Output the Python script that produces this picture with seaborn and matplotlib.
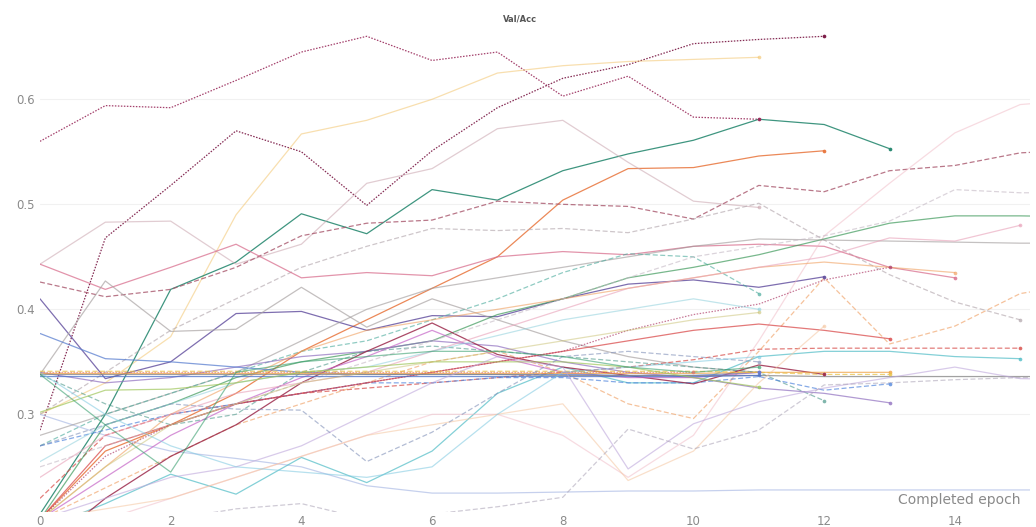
import matplotlib
matplotlib.use("Agg")
import matplotlib.pyplot as plt
import seaborn as sns
import pandas as pd

# ---- validation accuracy per completed epoch, one list per run ----
run_maroon_top = [0.560, 0.594, 0.592, 0.618, 0.645, 0.660, 0.637, 0.645, 0.603, 0.622, 0.583, 0.581]
run_maroon_climb = [0.285, 0.468, 0.518, 0.570, 0.550, 0.499, 0.551, 0.592, 0.620, 0.633, 0.653, 0.657, 0.660]
run_yellow = [0.300, 0.330, 0.374, 0.490, 0.567, 0.580, 0.600, 0.625, 0.632, 0.636, 0.638, 0.640]
run_green_dark = [0.205, 0.300, 0.419, 0.445, 0.491, 0.472, 0.514, 0.504, 0.532, 0.548, 0.561, 0.581, 0.576, 0.553]
run_orange = [0.200, 0.265, 0.290, 0.320, 0.360, 0.390, 0.420, 0.450, 0.504, 0.534, 0.535, 0.546, 0.551]
run_mauve = [0.443, 0.483, 0.484, 0.443, 0.462, 0.520, 0.534, 0.572, 0.580, 0.540, 0.503, 0.497]
run_rose_dash = [0.426, 0.412, 0.419, 0.440, 0.470, 0.482, 0.485, 0.503, 0.500, 0.498, 0.486, 0.518, 0.512, 0.532, 0.537, 0.549, 0.552]
run_gray_dash = [0.300, 0.340, 0.380, 0.410, 0.440, 0.460, 0.477, 0.475, 0.477, 0.473, 0.486, 0.501, 0.466, 0.433, 0.407, 0.390]
run_pink = [0.443, 0.419, 0.440, 0.462, 0.430, 0.435, 0.432, 0.450, 0.455, 0.452, 0.460, 0.462, 0.460, 0.440, 0.430]
run_purple = [0.410, 0.334, 0.350, 0.396, 0.398, 0.380, 0.394, 0.393, 0.410, 0.424, 0.428, 0.421, 0.431]
run_gray = [0.338, 0.427, 0.379, 0.381, 0.421, 0.383, 0.410, 0.390, 0.370, 0.355, 0.345, 0.340]
run_lavender_flat = [0.300, 0.280, 0.265, 0.258, 0.250, 0.232, 0.225, 0.225, 0.226, 0.227, 0.227, 0.228, 0.228, 0.228, 0.228, 0.228, 0.228]
run_teal = [0.190, 0.215, 0.243, 0.224, 0.259, 0.235, 0.265, 0.320, 0.345, 0.330, 0.330, 0.355, 0.360, 0.360, 0.355, 0.353]
run_red_dash = [0.220, 0.280, 0.300, 0.310, 0.320, 0.325, 0.330, 0.335, 0.340, 0.345, 0.352, 0.362, 0.363, 0.363, 0.363, 0.363]
run_orange_dash = [0.200, 0.230, 0.260, 0.290, 0.310, 0.330, 0.350, 0.360, 0.340, 0.310, 0.296, 0.360, 0.430, 0.367, 0.384, 0.415, 0.425]
run_pink_rise = [0.180, 0.200, 0.220, 0.240, 0.260, 0.280, 0.300, 0.300, 0.280, 0.240, 0.280, 0.370, 0.470, 0.520, 0.568, 0.595, 0.600]
run_green = [0.200, 0.290, 0.310, 0.335, 0.350, 0.360, 0.370, 0.395, 0.410, 0.430, 0.440, 0.452, 0.467, 0.482, 0.489, 0.489, 0.488]
run_gray_high = [0.280, 0.300, 0.320, 0.340, 0.370, 0.400, 0.420, 0.430, 0.440, 0.450, 0.460, 0.467, 0.466, 0.465, 0.464, 0.463, 0.463]
run_teal_dash = [0.270, 0.300, 0.320, 0.340, 0.360, 0.370, 0.390, 0.410, 0.435, 0.453, 0.450, 0.415]
run_teal_dash_b = [0.338, 0.310, 0.290, 0.300, 0.340, 0.360, 0.365, 0.360, 0.355, 0.350, 0.345, 0.340, 0.313]
run_blue_dash = [0.270, 0.285, 0.300, 0.310, 0.320, 0.330, 0.330, 0.335, 0.335, 0.330, 0.330, 0.336, 0.323, 0.329]
run_purple_b = [0.340, 0.330, 0.335, 0.345, 0.355, 0.360, 0.370, 0.365, 0.350, 0.340, 0.335, 0.325, 0.320, 0.311]
run_darkred = [0.170, 0.220, 0.260, 0.290, 0.330, 0.360, 0.387, 0.357, 0.345, 0.337, 0.329, 0.347, 0.338]
run_magenta = [0.200, 0.240, 0.280, 0.310, 0.335, 0.355, 0.380, 0.355, 0.340, 0.335, 0.335, 0.340]
run_red = [0.200, 0.270, 0.290, 0.310, 0.320, 0.330, 0.340, 0.350, 0.360, 0.370, 0.380, 0.386, 0.380, 0.372]
run_maroon_dot = [0.200, 0.260, 0.290, 0.310, 0.320, 0.330, 0.340, 0.350, 0.360, 0.380, 0.395, 0.405, 0.428, 0.440]
run_orange_b = [0.200, 0.250, 0.300, 0.330, 0.360, 0.380, 0.390, 0.400, 0.410, 0.420, 0.430, 0.440, 0.445, 0.440, 0.435]
run_pink_b = [0.240, 0.280, 0.300, 0.320, 0.330, 0.340, 0.360, 0.380, 0.400, 0.420, 0.430, 0.440, 0.450, 0.468, 0.465, 0.480]
run_silver_dash = [0.250, 0.270, 0.290, 0.310, 0.330, 0.350, 0.370, 0.390, 0.410, 0.430, 0.450, 0.460, 0.470, 0.484, 0.514, 0.511, 0.511]
run_cyan = [0.255, 0.290, 0.310, 0.330, 0.340, 0.345, 0.360, 0.375, 0.390, 0.400, 0.410, 0.400]
run_blue = [0.377, 0.353, 0.350, 0.345, 0.340, 0.338, 0.338, 0.338, 0.338, 0.337, 0.337, 0.340]
run_flat_gray = [0.338, 0.338, 0.338, 0.338, 0.338, 0.338, 0.338, 0.338, 0.337, 0.337, 0.337, 0.337, 0.336, 0.336, 0.336, 0.336, 0.336]
run_flat_orange = [0.339, 0.339, 0.339, 0.339, 0.339, 0.339, 0.339, 0.339, 0.339, 0.339, 0.339, 0.340, 0.340, 0.340]
run_flat_yellow = [0.341, 0.341, 0.341, 0.341, 0.341, 0.341, 0.341, 0.341, 0.341, 0.341, 0.341, 0.340, 0.338, 0.338]
run_flat_blue = [0.336, 0.336, 0.336, 0.336, 0.336, 0.336, 0.336, 0.336, 0.336, 0.336, 0.336, 0.337]
run_flat_red = [0.340, 0.340, 0.340, 0.340, 0.340, 0.340, 0.340, 0.340, 0.340, 0.340, 0.340]
run_lime = [0.302, 0.323, 0.324, 0.330, 0.340, 0.345, 0.350, 0.350, 0.350, 0.345, 0.335, 0.326]
run_olive = [0.200, 0.250, 0.290, 0.310, 0.330, 0.340, 0.350, 0.360, 0.370, 0.380, 0.390, 0.397]
run_peach = [0.200, 0.210, 0.220, 0.240, 0.260, 0.280, 0.290, 0.300, 0.310, 0.237, 0.265, 0.330, 0.384]
run_lavender = [0.200, 0.220, 0.240, 0.250, 0.270, 0.300, 0.330, 0.355, 0.345, 0.248, 0.291, 0.312, 0.325, 0.335, 0.345, 0.334, 0.333]
run_gray_dash_low = [0.180, 0.190, 0.200, 0.210, 0.215, 0.200, 0.205, 0.212, 0.221, 0.286, 0.267, 0.285, 0.328, 0.330, 0.333, 0.335, 0.335]
run_slate_dash = [0.270, 0.290, 0.310, 0.305, 0.304, 0.255, 0.283, 0.320, 0.355, 0.360, 0.355, 0.350]
run_sky = [0.340, 0.300, 0.270, 0.250, 0.245, 0.240, 0.250, 0.300, 0.340, 0.345, 0.350, 0.355]
run_green_fall = [0.338, 0.290, 0.245, 0.340, 0.350, 0.355, 0.360, 0.360, 0.355, 0.345, 0.340, 0.345]

# run, colour, line style, opacity
runs = [
    (run_maroon_top, "#9a2c5c", "dot", 0.9),
    (run_maroon_climb, "#7e1f4a", "dot", 0.95),
    (run_yellow, "#f3c56e", "solid", 0.55),
    (run_green_dark, "#2a8a72", "solid", 0.9),
    (run_orange, "#e8743b", "solid", 0.85),
    (run_mauve, "#c9a3ad", "solid", 0.55),
    (run_rose_dash, "#a8566c", "dash", 0.8),
    (run_gray_dash, "#b4a8ae", "dash", 0.65),
    (run_pink, "#d9708f", "solid", 0.75),
    (run_purple, "#5e4a9c", "solid", 0.8),
    (run_gray, "#aaa4a4", "solid", 0.7),
    (run_lavender_flat, "#aebde6", "solid", 0.7),
    (run_teal, "#4fbcc6", "solid", 0.7),
    (run_red_dash, "#d9534f", "dash", 0.75),
    (run_orange_dash, "#ef9a5a", "dash", 0.6),
    (run_pink_rise, "#f0b8c4", "solid", 0.5),
    (run_green, "#3f9a5c", "solid", 0.7),
    (run_gray_high, "#9e9898", "solid", 0.6),
    (run_teal_dash, "#46a99a", "dash", 0.6),
    (run_teal_dash_b, "#3c8f80", "dash", 0.55),
    (run_blue_dash, "#5387dd", "dash", 0.7),
    (run_purple_b, "#9070c0", "solid", 0.7),
    (run_darkred, "#9c2a4c", "solid", 0.85),
    (run_magenta, "#c565c7", "solid", 0.7),
    (run_red, "#da4c4c", "solid", 0.75),
    (run_maroon_dot, "#b0406c", "dot", 0.7),
    (run_orange_b, "#f0a060", "solid", 0.6),
    (run_pink_b, "#e8a0b8", "solid", 0.6),
    (run_silver_dash, "#c4b8c4", "dash", 0.6),
    (run_cyan, "#8fd0dc", "solid", 0.55),
    (run_blue, "#5a7fd0", "solid", 0.75),
    (run_flat_gray, "#8a8a8a", "solid", 0.8),
    (run_flat_orange, "#f0a040", "solid", 0.7),
    (run_flat_yellow, "#e8c040", "dash", 0.7),
    (run_flat_blue, "#4a6fc8", "solid", 0.75),
    (run_flat_red, "#e07070", "dot", 0.6),
    (run_lime, "#a0c75c", "solid", 0.7),
    (run_olive, "#c8c070", "solid", 0.5),
    (run_peach, "#f5c6a0", "solid", 0.55),
    (run_lavender, "#bfa8dc", "solid", 0.6),
    (run_gray_dash_low, "#a8a0b4", "dash", 0.55),
    (run_slate_dash, "#8090b8", "dash", 0.6),
    (run_sky, "#7cc8e0", "solid", 0.55),
    (run_green_fall, "#3aa070", "solid", 0.6),
]

line_styles = {"solid": "-", "dash": (0, (4, 2)), "dot": (0, (1.2, 1.2))}
x_max = 15.15
y_min, y_max = 0.207, 0.666

sns.set_theme(style="white")
plt.rcParams["font.family"] = ["DejaVu Sans"]

fig = plt.figure(figsize=(10.36, 5.27), dpi=100)
ax = fig.add_axes([40 / 1036, 1 - 512 / 527, (1030 - 40) / 1036, (512 - 30) / 527])

for values, color, style, alpha in runs:
    frame = pd.DataFrame({"epoch": range(len(values)), "acc": values})
    sns.lineplot(data=frame, x="epoch", y="acc", ax=ax, color=color, alpha=alpha,
                 linewidth=0.9, linestyle=line_styles[style], legend=False, zorder=2)
    last_epoch = len(values) - 1
    if last_epoch <= x_max:
        sns.scatterplot(x=[last_epoch], y=[values[-1]], ax=ax, color=color, alpha=min(1, alpha + 0.1),
                        s=7, linewidth=0, legend=False, zorder=3)

ax.set_xlim(0, x_max)
ax.set_ylim(y_min, y_max)
ax.set_xticks(range(0, 15, 2))
ax.set_yticks([0.3, 0.4, 0.5, 0.6])
ax.set_yticklabels(["0.3", "0.4", "0.5", "0.6"])
ax.yaxis.grid(True, color="#f1f1f1", linewidth=0.8, zorder=0)
ax.xaxis.grid(False)
for spine in ax.spines.values():
    spine.set_visible(False)
ax.tick_params(axis="both", length=0, labelsize=8.5, labelcolor="#8a8a8a")
ax.tick_params(axis="y", pad=4)
ax.tick_params(axis="x", pad=2)
ax.set_xlabel("")
ax.set_ylabel("")

fig.text(0.502, 1 - 19 / 527, "Val/Acc", ha="center", va="center",
         fontsize=6, fontweight="bold", color="#555555")
fig.text(1020 / 1036, 1 - 500 / 527, "Completed epoch", ha="right", va="center",
         fontsize=10, color="#8a8a8a")

fig.savefig("out.png", dpi=100, facecolor="white")
